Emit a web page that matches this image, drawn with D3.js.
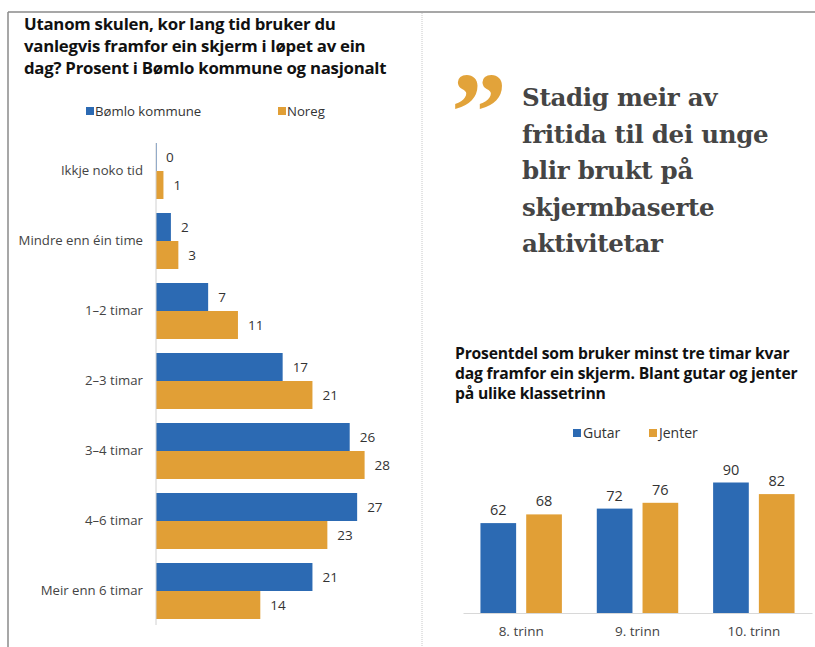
<!DOCTYPE html>
<html><head><meta charset="utf-8">
<script src="https://cdn.jsdelivr.net/npm/d3@7"></script>
<style>body{margin:0;background:#fff} svg{display:block}</style>
</head><body>
<svg id="c" width="815" height="647"></svg>
<script>
// ---- data ----
const categories = ["Ikkje noko tid","Mindre enn éin time","1–2 timar","2–3 timar","3–4 timar","4–6 timar","Meir enn 6 timar"];
const bomlo = [0,2,7,17,26,27,21];
const noreg = [1,3,11,21,28,23,14];
const seriesLeft = ["Bømlo kommune","Noreg"];
const grades = ["8. trinn","9. trinn","10. trinn"];
const gutar = [62,72,90];
const jenter = [68,76,82];
const seriesRight = ["Gutar","Jenter"];
const titleLeft = ["Utanom skulen, kor lang tid bruker du","vanlegvis framfor ein skjerm i løpet av ein","dag? Prosent i Bømlo kommune og nasjonalt"];
const titleRight = ["Prosentdel som bruker minst tre timar kvar","dag framfor ein skjerm. Blant gutar og jenter","på ulike klassetrinn"];
const quoteLines = ["Stadig meir av","fritida til dei unge","blir brukt på","skjermbaserte","aktivitetar"];

const BLUE = "#2c6ab3", ORANGE = "#e19f36";
const SANS = "'Open Sans', Roboto, sans-serif";
const svg = d3.select("#c");

// frame
svg.append("line").attr("x1",8).attr("x2",815).attr("y1",12).attr("y2",12).attr("stroke","#8a8a8a").attr("stroke-width",1.5);
svg.append("line").attr("x1",8).attr("x2",8).attr("y1",12).attr("y2",647).attr("stroke","#8a8a8a").attr("stroke-width",1.5);
svg.append("line").attr("x1",422).attr("x2",422).attr("y1",13).attr("y2",647).attr("stroke","#c8c8c8").attr("stroke-dasharray","1,1");

// ---- left chart ----
svg.append("g").selectAll("text").data(titleLeft).join("text")
  .attr("x",24).attr("y",(d,i)=>30+i*22).text(d=>d)
  .attr("font-family",SANS).attr("font-weight",700).attr("font-size",16.8).attr("letter-spacing",-0.25).attr("fill","#111");

const legL = svg.append("g");
[[90,seriesLeft[0],BLUE],[282,seriesLeft[1],ORANGE]].forEach(([x,t,c])=>{
  legL.append("rect").attr("x",x-4).attr("y",107).attr("width",8).attr("height",8).attr("fill",c);
  legL.append("text").attr("x",x+5).attr("y",116).text(t).attr("font-family",SANS).attr("font-size",13.2).attr("fill","#333");
});

const xL = d3.scaleLinear().domain([0,30]).range([156,156+30*7.45]);
const yL = d3.scaleBand().domain(categories).range([136,626]).paddingInner(0.2).paddingOuter(0.1);
const yLi = d3.scaleBand().domain(seriesLeft).range([0,yL.bandwidth()]);
const leftRows = categories.map((c,i)=>({c, vals:[{s:seriesLeft[0],v:bomlo[i],col:BLUE},{s:seriesLeft[1],v:noreg[i],col:ORANGE}]}));

const gL = svg.append("g");
const rowsL = gL.selectAll("g.row").data(leftRows).join("g").attr("transform",d=>`translate(0,${yL(d.c)})`);
rowsL.selectAll("rect").data(d=>d.vals).join("rect")
  .attr("x",xL(0)).attr("y",d=>yLi(d.s)).attr("width",d=>Math.max(0.8,xL(d.v)-xL(0))).attr("height",yLi.bandwidth())
  .attr("fill",d=>d.col);
rowsL.selectAll("text").data(d=>d.vals).join("text")
  .attr("x",d=>xL(d.v)+10).attr("y",d=>yLi(d.s)+yLi.bandwidth()/2+5).text(d=>d.v)
  .attr("font-family",SANS).attr("font-size",13.5).attr("fill","#333");

const axL = svg.append("g").attr("transform",`translate(${xL(0)},0)`)
  .call(d3.axisLeft(yL).tickSize(0).tickPadding(13));
axL.select(".domain").attr("stroke","#d0d0d0").attr("d",`M0,${143}V${625}`);
axL.selectAll("text").attr("font-family",SANS).attr("font-size",13.2).attr("fill","#444");

// ---- quote ----
svg.append("text").attr("x",451).attr("y",150).text("\u201D")
  .attr("font-family","'Liberation Serif', serif").attr("font-weight",700).attr("font-size",112).attr("fill","#e2a33a");
svg.append("g").selectAll("text").data(quoteLines).join("text")
  .attr("x",522).attr("y",(d,i)=>106+i*36.5).text(d=>d)
  .attr("font-family","'DejaVu Serif', serif").attr("font-weight",700).attr("font-size",24.5).attr("letter-spacing",-0.3).attr("fill","#454545");

// ---- right chart ----
svg.append("g").selectAll("text").data(titleRight).join("text")
  .attr("x",455).attr("y",(d,i)=>359+i*20).text(d=>d)
  .attr("font-family",SANS).attr("font-weight",700).attr("font-size",15.7).attr("letter-spacing",-0.2).attr("fill","#111");

const legR = svg.append("g");
[[577,seriesRight[0],BLUE],[653,seriesRight[1],ORANGE]].forEach(([x,t,c])=>{
  legR.append("rect").attr("x",x-4).attr("y",429).attr("width",8).attr("height",8).attr("fill",c);
  legR.append("text").attr("x",x+6).attr("y",438).text(t).attr("font-family",SANS).attr("font-size",14).attr("fill","#333");
});

const xR = d3.scaleBand().domain(grades).range([463,812]).paddingInner(0.3).paddingOuter(0.15);
const xRi = d3.scaleBand().domain(seriesRight).range([0,xR.bandwidth()]).paddingInner(0.22);
const yR = d3.scaleLinear().domain([0,100]).range([613,613-145]);
const rightGroups = grades.map((g,i)=>({g, vals:[{s:seriesRight[0],v:gutar[i],col:BLUE},{s:seriesRight[1],v:jenter[i],col:ORANGE}]}));

const gR = svg.append("g");
const colsR = gR.selectAll("g.col").data(rightGroups).join("g").attr("transform",d=>`translate(${xR(d.g)},0)`);
colsR.selectAll("rect").data(d=>d.vals).join("rect")
  .attr("x",d=>xRi(d.s)).attr("y",d=>yR(d.v)).attr("width",xRi.bandwidth()).attr("height",d=>yR(0)-yR(d.v))
  .attr("fill",d=>d.col);
colsR.selectAll("text").data(d=>d.vals).join("text")
  .attr("x",d=>xRi(d.s)+xRi.bandwidth()/2).attr("y",d=>yR(d.v)-8).attr("text-anchor","middle").text(d=>d.v)
  .attr("font-family",SANS).attr("font-size",14.5).attr("fill","#333");

const axR = svg.append("g").attr("transform",`translate(0,${yR(0)})`)
  .call(d3.axisBottom(xR).tickSize(0).tickPadding(13));
axR.select(".domain").attr("stroke","#d8d8d8");
axR.selectAll("text").attr("font-family",SANS).attr("font-size",13.5).attr("fill","#444");
</script>
</body></html>
